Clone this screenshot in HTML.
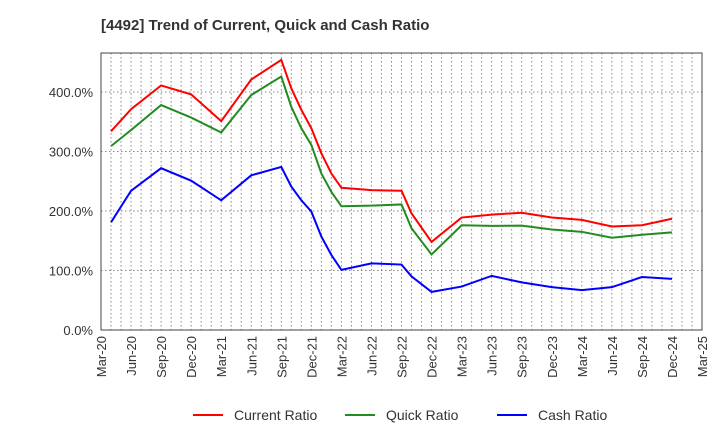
<!DOCTYPE html>
<html><head><meta charset="utf-8"><style>
body{margin:0;background:#fff;}
svg{display:block;font-family:"Liberation Sans",sans-serif;}
</style></head><body>
<svg id="chart" width="720" height="440">
<text x="101" y="30" font-size="15" font-weight="bold" fill="#333">[4492]  Trend of Current, Quick and Cash Ratio</text>
<g id="grid"></g><g id="series"></g><g id="axes"></g>
<g>
<g><line x1="193" y1="415" x2="223" y2="415" stroke="#ff0000" stroke-width="2"/><text x="234" y="420" font-size="14" fill="#333">Current Ratio</text></g>
<g><line x1="345" y1="415" x2="375" y2="415" stroke="#228b22" stroke-width="2"/><text x="386" y="420" font-size="14" fill="#333">Quick Ratio</text></g>
<g><line x1="497" y1="415" x2="527" y2="415" stroke="#0000ff" stroke-width="2"/><text x="538" y="420" font-size="14" fill="#333">Cash Ratio</text></g>
</g>
</svg>
<script>
const months = [1,3,6,9,12,15,18,19,20,21,22,23,24,27,30,31,33,36,39,42,45,48,51,54,57];
const currentRatio = [334,371,411,396,351,421,454,406,370,339,297,263,239,235,234,196,148,189,194,197,189,185,174,176,187];
const quickRatio = [309,336,378,357,332,395,426,375,339,311,263,232,208,209,211,171,127,176,175,175.5,169,165,155,160,164];
const cashRatio = [181,234,272,251,218,260,274,241,218,199,157,126,101,112,110,90,64,73,91,80,72,67,72,89,86];
const yTicks = [0,100,200,300,400];
const xTickLabels = ["Mar-20","Jun-20","Sep-20","Dec-20","Mar-21","Jun-21","Sep-21","Dec-21","Mar-22","Jun-22","Sep-22","Dec-22","Mar-23","Jun-23","Sep-23","Dec-23","Mar-24","Jun-24","Sep-24","Dec-24","Mar-25"];

const L=101,R=702,T=53,B=330;
const xs=m=>L+(R-L)*m/60;
const ys=v=>B-v*0.595;
const NS="http://www.w3.org/2000/svg";
function mk(tag,attrs,parent){const e=document.createElementNS(NS,tag);for(const k in attrs)e.setAttribute(k,attrs[k]);parent.appendChild(e);return e;}
const grid=document.getElementById('grid'),axes=document.getElementById('axes'),ser=document.getElementById('series');
for(let m=1;m<60;m++){const l=mk('line',{x1:xs(m),x2:xs(m),y1:T,y2:B,stroke:'#888','stroke-dasharray':'1.5,2.5','stroke-width':1},grid);

}
yTicks.forEach(v=>{if(v>0){const l=mk('line',{x1:L,x2:R,y1:ys(v),y2:ys(v),stroke:'#888','stroke-dasharray':'1.5,2.5','stroke-width':1},grid);

}
const t=mk('text',{x:L-8,y:ys(v)+5,'font-size':13,'text-anchor':'end',fill:'#333'},axes);t.textContent=v.toFixed(1)+'%';

});
xTickLabels.forEach((s,i)=>{const x=xs(i*3);const t=mk('text',{x:0,y:0,'font-size':13,'text-anchor':'end',fill:'#333',transform:`translate(${x+5},${B+6}) rotate(-90)`},axes);t.textContent=s;

});
const fr=mk('rect',{x:L,y:T,width:R-L,height:B-T,fill:'none',stroke:'#444','stroke-width':1},axes);


[[currentRatio,'#ff0000','current-ratio-line'],[quickRatio,'#228b22','quick-ratio-line'],[cashRatio,'#0000ff','cash-ratio-line']].forEach(([d,c,n])=>{
const p=mk('polyline',{points:d.map((v,i)=>xs(months[i])+','+ys(v)).join(' '),fill:'none',stroke:c,'stroke-width':2},ser);

});
</script>
</body></html>
